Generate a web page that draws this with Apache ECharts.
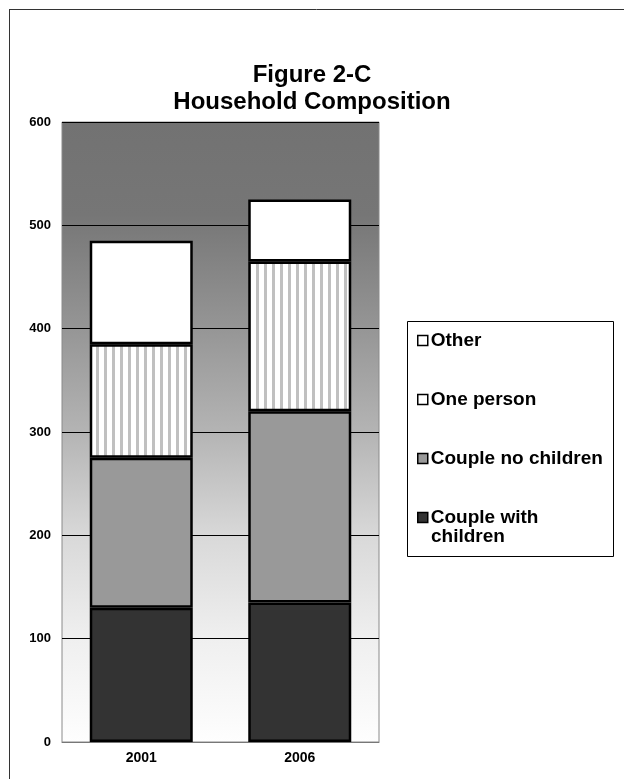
<!DOCTYPE html>
<html>
<head>
<meta charset="utf-8">
<title>Household Composition</title>
<script src="https://cdn.jsdelivr.net/npm/echarts@6/dist/echarts.min.js"></script>
<style>
  html, body { margin: 0; padding: 0; background: #fff; }
  #chart { width: 624px; height: 779px; }
</style>
</head>
<body>
<div id="chart"></div>
<script>
// Household counts by type, census years
const years = ['2001', '2006'];
const coupleWithChildren = [130, 135];
const coupleNoChildren = [145, 185];
const onePerson = [110, 145];
const other = [100, 60];
const yTicks = { min: 0, max: 600, step: 100 };

const FONT = '"Liberation Sans", Arial, sans-serif';

// Vertical light-grey stripes used for the "One person" segment
function stripePattern() {
  const c = document.createElement('canvas');
  c.width = 8; c.height = 8;
  const g = c.getContext('2d');
  g.fillStyle = '#ffffff';
  g.fillRect(0, 0, 8, 8);
  g.fillStyle = '#c0c0c0';
  g.fillRect(0, 0, 3, 8);
  return c;
}

const chart = echarts.init(document.getElementById('chart'), null, { renderer: 'canvas' });

const barBase = {
  type: 'bar',
  stack: 'households',
  barWidth: 103,
  emphasis: { disabled: true }
};
const edge = { borderColor: '#000', borderWidth: 2.5 };

chart.setOption({
  animation: false,
  backgroundColor: '#ffffff',
  textStyle: { fontFamily: FONT },
  title: {
    text: 'Figure 2-C\nHousehold Composition',
    left: 'center',
    top: 57,
    textStyle: { fontFamily: FONT, fontSize: 24, fontWeight: 'bold', color: '#000', lineHeight: 27 }
  },
  grid: {
    left: 62, right: 245, top: 122, bottom: 37,
    show: true,
    borderColor: '#8a8a8a',
    borderWidth: 1,
    backgroundColor: new echarts.graphic.LinearGradient(0, 0, 0, 1, [
      { offset: 0, color: '#727272' },
      { offset: 0.15, color: '#767676' },
      { offset: 0.33, color: '#959595' },
      { offset: 0.5, color: '#b4b4b4' },
      { offset: 0.67, color: '#d9d9d9' },
      { offset: 0.83, color: '#efefef' },
      { offset: 1, color: '#fefefe' }
    ])
  },
  legend: {
    orient: 'vertical',
    left: 412,
    top: 326,
    itemGap: 40,
    itemWidth: 10,
    itemHeight: 10,
    icon: 'rect',
    selectedMode: false,
    data: [
      { name: 'Other', itemStyle: { color: '#fff', borderColor: '#000', borderWidth: 1.5 } },
      { name: 'One person', itemStyle: { color: '#fff', borderColor: '#000', borderWidth: 1.5 } },
      { name: 'Couple no children', itemStyle: { color: '#999999', borderColor: '#000', borderWidth: 1.5 } },
      { name: 'Couple with children', itemStyle: { color: '#333333', borderColor: '#000', borderWidth: 1.5 } }
    ],
    formatter: function (name) {
      return name === 'Couple with children' ? 'Couple with' : name;
    },
    textStyle: { fontFamily: FONT, fontSize: 19, fontWeight: 'bold', color: '#000', lineHeight: 19, padding: [0, 0, 0, -2] }
  },
  graphic: [
    // frame round the figure
    { type: 'line', shape: { x1: 9, y1: 9.5, x2: 624, y2: 9.5 }, style: { stroke: '#333', lineWidth: 1 }, silent: true },
    { type: 'line', shape: { x1: 9.5, y1: 9, x2: 9.5, y2: 779 }, style: { stroke: '#333', lineWidth: 1 }, silent: true },
    // legend box
    { type: 'rect', shape: { x: 407.5, y: 321.5, width: 206, height: 235 }, style: { fill: 'none', stroke: '#000', lineWidth: 1 }, silent: true, z: 1 },
    // second line of the last legend entry
    { type: 'text', left: 431, top: 527, style: { text: 'children', font: 'bold 19px ' + FONT, fill: '#000' }, silent: true }
  ],
  xAxis: {
    type: 'category',
    data: years,
    axisLine: { show: true, lineStyle: { color: '#777', width: 1 } },
    axisTick: { show: false },
    axisLabel: { fontFamily: FONT, fontSize: 14, fontWeight: 'bold', color: '#000', margin: 9 },
    splitLine: { show: false }
  },
  yAxis: {
    type: 'value',
    min: yTicks.min,
    max: yTicks.max,
    interval: yTicks.step,
    axisLine: { show: false },
    axisTick: { show: false },
    axisLabel: { fontFamily: FONT, fontSize: 13, fontWeight: 'bold', color: '#000', margin: 11 },
    splitLine: { show: true, lineStyle: { color: '#000', width: 1 } }
  },
  series: [
    Object.assign({}, barBase, { name: 'Couple with children', data: coupleWithChildren, itemStyle: Object.assign({ color: '#333333' }, edge) }),
    Object.assign({}, barBase, { name: 'Couple no children', data: coupleNoChildren, itemStyle: Object.assign({ color: '#999999' }, edge) }),
    Object.assign({}, barBase, { name: 'One person', data: onePerson, itemStyle: Object.assign({ color: { image: stripePattern(), repeat: 'repeat' } }, edge) }),
    Object.assign({}, barBase, { name: 'Other', data: other, itemStyle: Object.assign({ color: '#ffffff' }, edge) })
  ]
});
</script>
</body>
</html>
